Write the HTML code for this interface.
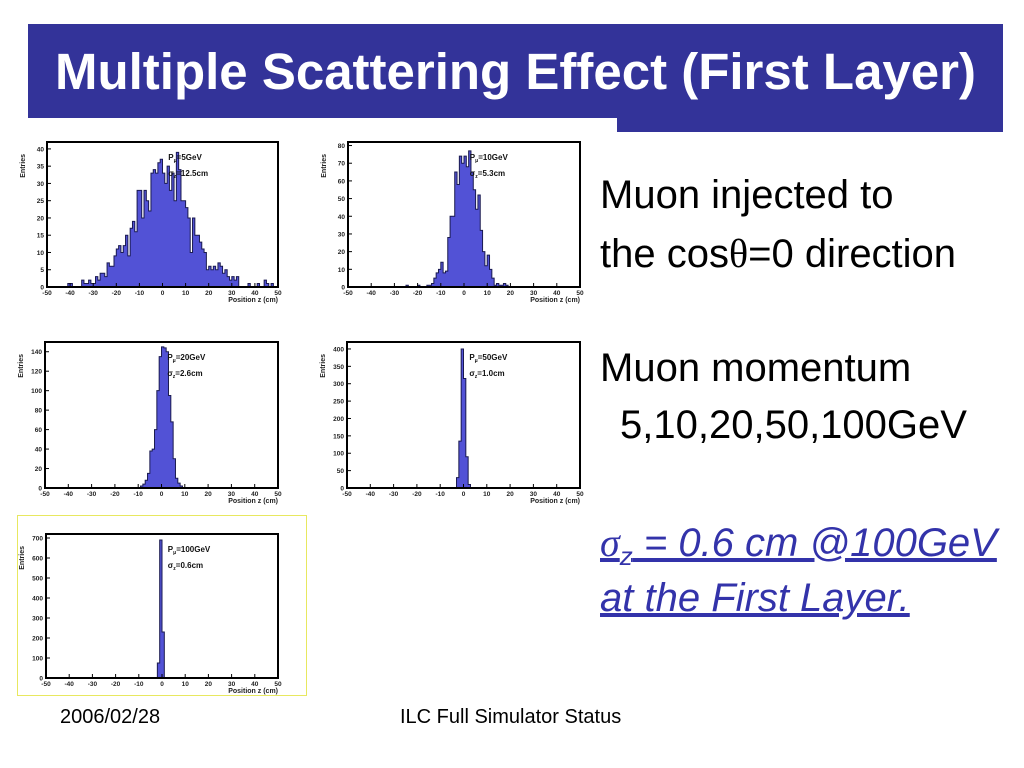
<!DOCTYPE html>
<html><head><meta charset="utf-8"><style>
body{margin:0;width:1024px;height:768px;background:#fff;overflow:hidden;font-family:"Liberation Sans",sans-serif;position:relative}
.t{position:absolute;white-space:nowrap}
.big{font-size:40px}
</style></head><body>
<div style="position:absolute;left:28px;top:24px;width:975px;height:94px;background:#333399"></div>
<div style="position:absolute;left:617px;top:117px;width:386px;height:15px;background:#333399"></div>
<div class="t" style="left:55px;top:42px;color:#fff;font-weight:bold;font-size:51px">Multiple Scattering Effect (First Layer)</div>
<div style="position:absolute;left:17px;top:515px;width:290px;height:181px;border:1px solid #e8e860;box-sizing:border-box"></div>
<svg id="charts" width="1024" height="768" style="position:absolute;left:0;top:0"></svg>
<div class="t big" style="left:600px;top:173px">Muon injected to</div>
<div class="t big" style="left:600px;top:230px">the cos<span style="font-family:'Liberation Serif',serif">θ</span>=0 direction</div>
<div class="t big" style="left:600px;top:346px">Muon momentum</div>
<div class="t big" style="left:620px;top:403px">5,10,20,50,100GeV</div>
<div class="t big" style="left:600px;top:519px;color:#3333aa;font-style:italic;text-decoration:underline"><span style="font-family:'Liberation Serif',serif">σ</span><sub style="font-size:26px">z</sub> = 0.6 cm @100GeV</div>
<div class="t big" style="left:600px;top:576px;color:#3333aa;font-style:italic;text-decoration:underline">at the First Layer.</div>
<div class="t" style="left:60px;top:706px;font-size:20px">2006/02/28</div>
<div class="t" style="left:400px;top:706px;font-size:20px">ILC Full Simulator Status</div>
<script>
const xTicks=[-50,-40,-30,-20,-10,0,10,20,30,40,50];
const h1Start=-41;
const h1Values=[1,1,0,0,0,0,2,1,1,2,1,1,3,2,4,4,3,7,6,6,9,11,12,10,12,15,9,17,19,16,28,28,20,28,25,22,33,34,33,36,37,33,30,35,28,33,25,39,34,25,25,23,20,10,20,15,15,13,11,10,5,6,5,6,5,7,6,4,5,3,2,3,2,3,0,0,0,0,1,0,0,0,1,0,0,2,1,0,1];
const h1Ticks=[0,5,10,15,20,25,30,35,40];
const h2Start=-25;
const h2Values=[1,0,0,0,0,1,0,0,0,1,1,2,5,8,10,14,8,9,28,40,40,65,58,74,70,74,68,77,65,55,44,52,32,20,12,18,10,5,1,2,1,1,2,1];
const h2Ticks=[0,10,20,30,40,50,60,70,80];
const h3Start=-9;
const h3Values=[2,4,8,15,38,40,60,100,135,145,144,140,95,68,30,10,5,2];
const h3Ticks=[0,20,40,60,80,100,120,140];
const h4Start=-3;
const h4Values=[30,135,400,315,90,10,1];
const h4Ticks=[0,50,100,150,200,250,300,350,400];
const h5Start=-2;
const h5Values=[75,690,230];
const h5Ticks=[0,100,200,300,400,500,600,700];
const panels=[
 {name:'hist-5gev',start:h1Start,vals:h1Values,ticks:h1Ticks,ymax:42,box:[47,142,278,287],p:'5GeV',s:'12.5cm'},
 {name:'hist-10gev',start:h2Start,vals:h2Values,ticks:h2Ticks,ymax:82,box:[348,142,580,287],p:'10GeV',s:'5.3cm'},
 {name:'hist-20gev',start:h3Start,vals:h3Values,ticks:h3Ticks,ymax:150,box:[45,342,278,488],p:'20GeV',s:'2.6cm'},
 {name:'hist-50gev',start:h4Start,vals:h4Values,ticks:h4Ticks,ymax:420,box:[347,342,580,488],p:'50GeV',s:'1.0cm'},
 {name:'hist-100gev',start:h5Start,vals:h5Values,ticks:h5Ticks,ymax:720,box:[46,534,278,678],p:'100GeV',s:'0.6cm'}
];
const svg=document.getElementById('charts');
const NS='http://www.w3.org/2000/svg';
function mk(tag,at,parent){const e=document.createElementNS(NS,tag);for(const k in at)e.setAttribute(k,at[k]);parent.appendChild(e);return e;}
panels.forEach(P=>{
 const [x0,y0,x1,y1]=P.box;
 const g=mk('g',{},svg);
 
 
 const X=v=>x0+(v+50)/100*(x1-x0);
 const Y=v=>y1-v/P.ymax*(y1-y0);
 let d='M'+X(P.start)+','+Y(0);
 P.vals.forEach((v,i)=>{d+=' L'+X(P.start+i)+','+Y(v)+' L'+X(P.start+i+1)+','+Y(v);});
 d+=' L'+X(P.start+P.vals.length)+','+Y(0)+' Z';
 const path=mk('path',{d:d,fill:'#5252d6',stroke:'#1a1a50','stroke-width':1},g);
 
 
 const fr=mk('rect',{x:x0,y:y0,width:x1-x0,height:y1-y0,fill:'none',stroke:'#000','stroke-width':2},g);
 
 
 xTicks.forEach(t=>{
  mk('line',{x1:X(t),x2:X(t),y1:y1,y2:y1-4,stroke:'#000'},g);
  const tx=mk('text',{x:X(t),y:y1+8,'font-size':6.5,'font-weight':'bold','text-anchor':'middle',fill:'#222'},g);
  tx.textContent=t;
  
  
 });
 P.ticks.forEach(t=>{
  mk('line',{x1:x0,x2:x0+4,y1:Y(t),y2:Y(t),stroke:'#000'},g);
  const tx=mk('text',{x:x0-3,y:Y(t)+2.5,'font-size':6.5,'font-weight':'bold','text-anchor':'end',fill:'#222'},g);
  tx.textContent=t;
  
  
 });
 const xl=mk('text',{x:x1,y:y1+15,'font-size':7,'font-weight':'bold','text-anchor':'end',fill:'#222'},g);
 xl.textContent='Position z (cm)';
 
 
 const yl=mk('text',{transform:'translate('+(x0-22)+','+(y0+12)+') rotate(-90)','font-size':7,'font-weight':'bold','text-anchor':'end',fill:'#222'},g);
 yl.textContent='Entries';
 
 
 const lx=X(2.5);
 const t1=mk('text',{x:lx,y:y0+18,'font-size':8,'font-weight':'bold',fill:'#111'},g);
 t1.innerHTML='P<tspan font-size="5" dy="2">μ</tspan><tspan dy="-2">='+P.p+'</tspan>';
 
 
 const t2=mk('text',{x:lx,y:y0+34,'font-size':8,'font-weight':'bold',fill:'#111'},g);
 t2.innerHTML='σ<tspan font-size="5" dy="2">z</tspan><tspan dy="-2">='+P.s+'</tspan>';
 
 
});
</script>
</body></html>
